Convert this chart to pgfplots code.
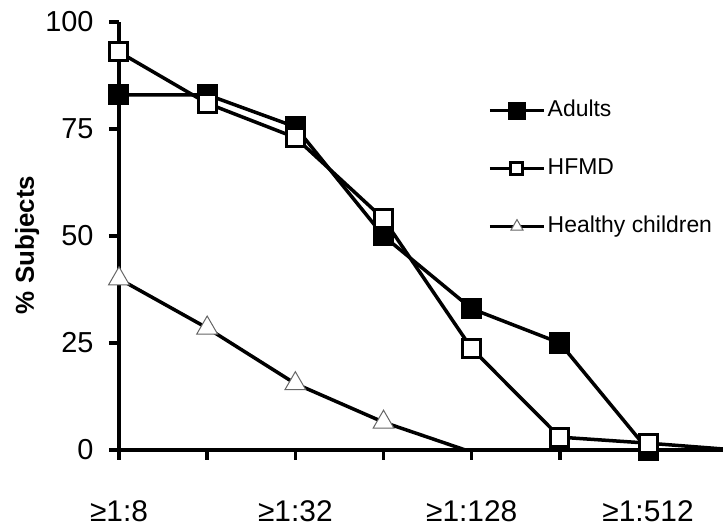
\documentclass[border=0pt]{standalone}
\usepackage{pgfplots}
\pgfplotsset{compat=1.18}
\usepackage{fontspec}
\setmainfont{Liberation Sans}
\begin{document}
\begin{tikzpicture}
\begin{axis}[
  scale only axis, width=604bp, height=428bp,
  xmin=0, xmax=6.85, ymin=0, ymax=100,
  axis lines*=left,
  axis line style={line width=3.5bp, black},
  xtick={0,1,2,3,4,5,6},
  xticklabels={≥1:8,,≥1:32,,≥1:128,,≥1:512},
  ytick={0,25,50,75,100},
  tick align=outside, major tick length=10bp,
  tick style={line width=3.5bp, black},
  /pgf/number format/assume math mode=true,
  yticklabel style={font=\fontsize{29}{31}\selectfont, xshift=-12bp},
  xticklabel style={font=\fontsize{30}{32}\selectfont, inner sep=0pt, yshift=-40bp},
  every axis y label/.style={at={(axis description cs:-0.152,0.479)}, rotate=90, anchor=center},
  ylabel={\% Subjects},
  ylabel style={font=\fontsize{26}{28}\selectfont\bfseries},
  legend style={draw=none, fill=none, at={(axis description cs:0.611,0.818)}, anchor=north west,
    font=\fontsize{23}{25}\selectfont, inner sep=0pt, row sep=37bp, column sep=2bp,
    nodes={inner sep=0pt, text height=16bp, text depth=5bp}},
  legend cell align=left,
]
\addplot[black, line width=3.5bp, mark=square*, mark size=9bp,
  mark options={solid, fill=black, draw=black, line width=3bp},
  legend image code/.code={\draw[line width=3.5bp, mark=none] (0bp,0bp) -- (54bp,0bp);
    \draw[mark size=7.5bp] plot coordinates {(27bp,0bp)};}]
  coordinates {(0,83) (1,83) (2,75.5) (3,50) (4,33) (5,25) (6,0) (7,0)};
\addlegendentry{Adults}
\addplot[black, line width=3.5bp, mark=square*, mark size=9bp,
  mark options={solid, fill=white, draw=black, line width=3bp},
  legend image code/.code={\draw[line width=3.5bp, mark=none] (0bp,0bp) -- (54bp,0bp);
    \draw[mark size=6bp] plot coordinates {(27bp,0bp)};}]
  coordinates {(0,93) (1,81) (2,73) (3,54) (4,23.7) (5,3) (6,1.6) (7,0)};
\addlegendentry{HFMD}
\addplot[black, line width=3.5bp, mark=triangle*, mark size=12bp,
  mark options={solid, fill=white, draw=black!60, line width=1bp},
  legend image code/.code={\draw[line width=3.5bp, mark=none] (0bp,0bp) -- (54bp,0bp);
    \draw[mark size=7bp] plot coordinates {(27bp,0bp)};}]
  coordinates {(0,40) (1,28.5) (2,15.5) (3,6.5) (4,-0.5)};
\addlegendentry{Healthy children}
\end{axis}
\pgfresetboundingbox
\path (-119bp,-80bp) rectangle (604bp,450bp);
\end{tikzpicture}
\end{document}
